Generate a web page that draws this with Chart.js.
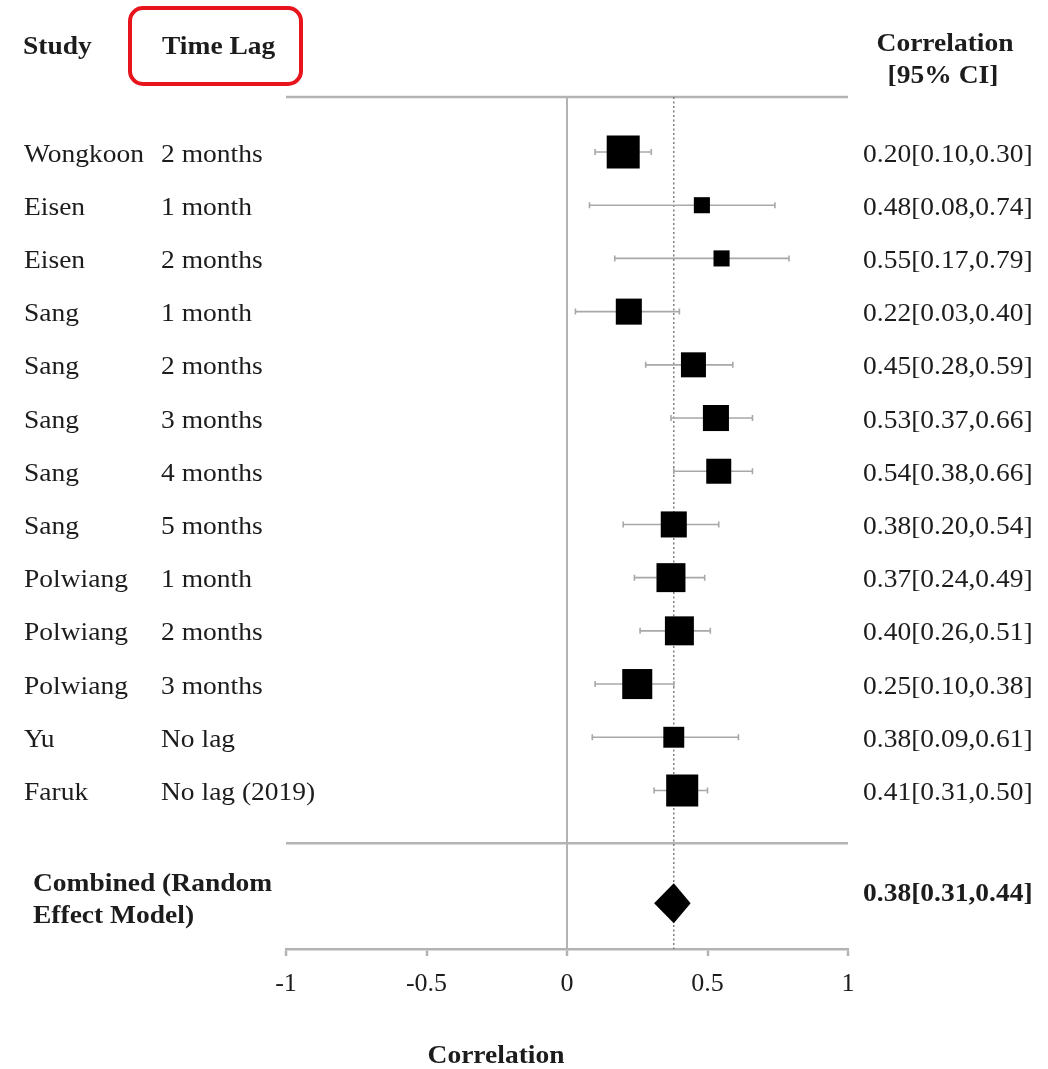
<!DOCTYPE html>
<html>
<head>
<meta charset="utf-8">
<script src="https://cdn.jsdelivr.net/npm/chart.js@4/dist/chart.umd.min.js"></script>
<style>
  html, body { margin: 0; padding: 0; background: #fff; }
  #c { display: block; }
</style>
</head>
<body>
<canvas id="c" width="1048" height="1069"></canvas>
<script>
// ---------------- data ----------------
const studies   = ['Wongkoon','Eisen','Eisen','Sang','Sang','Sang','Sang','Sang','Polwiang','Polwiang','Polwiang','Yu','Faruk'];
const timeLags  = ['2 months','1 month','2 months','1 month','2 months','3 months','4 months','5 months','1 month','2 months','3 months','No lag','No lag (2019)'];
const estimates = [0.20,0.48,0.55,0.22,0.45,0.53,0.54,0.38,0.37,0.40,0.25,0.38,0.41];
const lowerCI   = [0.10,0.08,0.17,0.03,0.28,0.37,0.38,0.20,0.24,0.26,0.10,0.09,0.31];
const upperCI   = [0.30,0.74,0.79,0.40,0.59,0.66,0.66,0.54,0.49,0.51,0.38,0.61,0.50];
const weights   = [12.2,2.9,2.9,7.6,7.0,7.6,7.0,7.6,9.4,9.4,10.1,4.9,11.5]; // relative weight (%)
const combinedLabel = ['Combined (Random', 'Effect Model)'];
const combinedEstimate = 0.38;
const combinedLower = 0.31;
const combinedUpper = 0.44;
const tickValues = [-1,-0.5,0,0.5,1];
const tickLabels = ['-1','-0.5','0','0.5','1'];

// ---------------- layout / style ----------------
const SERIF = '"Liberation Serif", "Times New Roman", serif';
const FS = 25;          // font size
const STRETCH = 1.1;    // horizontal stretch of text
const TEXT = '#1c1c1c';
const LINE = '#b3b3b3';
const ROW_MIN = -1.034, ROW_MAX = 14.98; // y scale range (row units)
const COMBINED_ROW = 14.12;
const SEPARATOR_ROW = 12.99;

const fmt = v => v.toFixed(2);

function drawText(ctx, str, x, y, opts) {
  opts = opts || {};
  ctx.save();
  ctx.font = (opts.bold ? 'bold ' : '') + (opts.size || FS) + 'px ' + SERIF;
  ctx.fillStyle = opts.color || TEXT;
  ctx.textBaseline = 'middle';
  const w = ctx.measureText(str).width * STRETCH;
  let x0 = x;
  if (opts.align === 'center') x0 = x - w / 2;
  else if (opts.align === 'right') x0 = x - w;
  ctx.translate(x0, y);
  ctx.scale(STRETCH, 1);
  ctx.textAlign = 'left';
  ctx.fillText(str, 0, 0);
  ctx.restore();
}

const forestPlugin = {
  id: 'forest',
  beforeDatasetsDraw(chart) {
    const ctx = chart.ctx, xs = chart.scales.x, ys = chart.scales.y, a = chart.chartArea;
    ctx.save();
    // top rule and separator
    ctx.strokeStyle = LINE;
    ctx.lineWidth = 2.5;
    ctx.beginPath();
    ctx.moveTo(a.left, a.top); ctx.lineTo(a.right, a.top);
    const sy = ys.getPixelForValue(SEPARATOR_ROW);
    ctx.moveTo(a.left, sy); ctx.lineTo(a.right, sy);
    ctx.stroke();
    // dotted line at combined estimate
    const cx = xs.getPixelForValue(combinedEstimate);
    ctx.strokeStyle = '#6e6e6e';
    ctx.lineWidth = 1.3;
    ctx.setLineDash([2, 2.5]);
    ctx.beginPath();
    ctx.moveTo(cx, a.top); ctx.lineTo(cx, a.bottom);
    ctx.stroke();
    ctx.setLineDash([]);
    // whiskers
    ctx.strokeStyle = '#a8a8a8';
    ctx.lineWidth = 1.6;
    for (let i = 0; i < estimates.length; i++) {
      const y = ys.getPixelForValue(i);
      const x1 = xs.getPixelForValue(lowerCI[i]);
      const x2 = xs.getPixelForValue(upperCI[i]);
      ctx.beginPath();
      ctx.moveTo(x1, y); ctx.lineTo(x2, y);
      ctx.moveTo(x1, y - 3); ctx.lineTo(x1, y + 3);
      ctx.moveTo(x2, y - 3); ctx.lineTo(x2, y + 3);
      ctx.stroke();
    }
    ctx.restore();
  },
  afterDatasetsDraw(chart) {
    const ctx = chart.ctx, xs = chart.scales.x, ys = chart.scales.y;
    const y = ys.getPixelForValue(COMBINED_ROW);
    const xl = xs.getPixelForValue(combinedLower);
    const xm = xs.getPixelForValue(combinedEstimate);
    const xr = xs.getPixelForValue(combinedUpper);
    ctx.save();
    ctx.fillStyle = '#000';
    ctx.beginPath();
    ctx.moveTo(xl, y);
    ctx.lineTo(xm, y - 20);
    ctx.lineTo(xr, y);
    ctx.lineTo(xm, y + 20);
    ctx.closePath();
    ctx.fill();
    ctx.restore();
  },
  afterDraw(chart) {
    const ctx = chart.ctx, xs = chart.scales.x, ys = chart.scales.y;
    // headers
    drawText(ctx, 'Study', 23, 48, {bold: true});
    drawText(ctx, 'Time Lag', 162, 48, {bold: true});
    drawText(ctx, 'Correlation', 945, 45, {bold: true, align: 'center'});
    drawText(ctx, '[95% CI]', 943, 77, {bold: true, align: 'center'});
    // red highlight box around "Time Lag"
    ctx.save();
    ctx.strokeStyle = '#e8141c';
    ctx.lineWidth = 4;
    ctx.beginPath();
    ctx.roundRect(130, 8, 171, 76, 13);
    ctx.stroke();
    ctx.restore();
    // rows
    for (let i = 0; i < studies.length; i++) {
      const y = ys.getPixelForValue(i) + 3;
      drawText(ctx, studies[i], 24, y);
      drawText(ctx, timeLags[i], 161, y);
      drawText(ctx, fmt(estimates[i]) + '[' + fmt(lowerCI[i]) + ',' + fmt(upperCI[i]) + ']', 863, y);
    }
    // combined
    const cy = ys.getPixelForValue(COMBINED_ROW);
    drawText(ctx, combinedLabel[0], 33, cy - 19, {bold: true});
    drawText(ctx, combinedLabel[1], 33, cy + 13, {bold: true});
    drawText(ctx, fmt(combinedEstimate) + '[' + fmt(combinedLower) + ',' + fmt(combinedUpper) + ']', 863, cy - 9, {bold: true});
    // axis title
    drawText(ctx, 'Correlation', 496, 1057, {bold: true, align: 'center'});
  }
};

const sideFromWeight = w => 9.45 * Math.sqrt(w); // square side in px

new Chart(document.getElementById('c'), {
  type: 'scatter',
  data: {
    datasets: [{
      data: estimates.map((v, i) => ({x: v, y: i})),
      pointStyle: 'rect',
      pointRadius: weights.map(w => sideFromWeight(w) / Math.SQRT2),
      pointBorderWidth: 0,
      borderWidth: 0,
      backgroundColor: '#000',
      borderColor: '#000'
    }]
  },
  options: {
    responsive: false,
    animation: false,
    events: [],
    layout: { padding: { left: 286, right: 200, top: 97, bottom: 0 } },
    plugins: { legend: { display: false }, tooltip: { enabled: false } },
    scales: {
      x: {
        type: 'linear',
        min: -1, max: 1,
        afterBuildTicks(scale) { scale.ticks = tickValues.map(v => ({value: v})); },
        afterFit(scale) { scale.height = 120; },
        ticks: {
          callback: (v, idx) => tickLabels[idx],
          font: { family: SERIF, size: 26 },
          color: TEXT,
          padding: 13,
          maxRotation: 0
        },
        grid: {
          drawOnChartArea: true,
          color: ctx => (ctx.tick && ctx.tick.value === 0) ? LINE : 'rgba(0,0,0,0)',
          lineWidth: 2,
          drawTicks: true,
          tickLength: 7,
          tickColor: LINE,
          tickWidth: 2.5
        },
        border: { display: true, color: LINE, width: 2.5 }
      },
      y: {
        type: 'linear',
        display: false,
        reverse: true,
        min: ROW_MIN, max: ROW_MAX
      }
    }
  },
  plugins: [forestPlugin]
});
</script>
</body>
</html>
